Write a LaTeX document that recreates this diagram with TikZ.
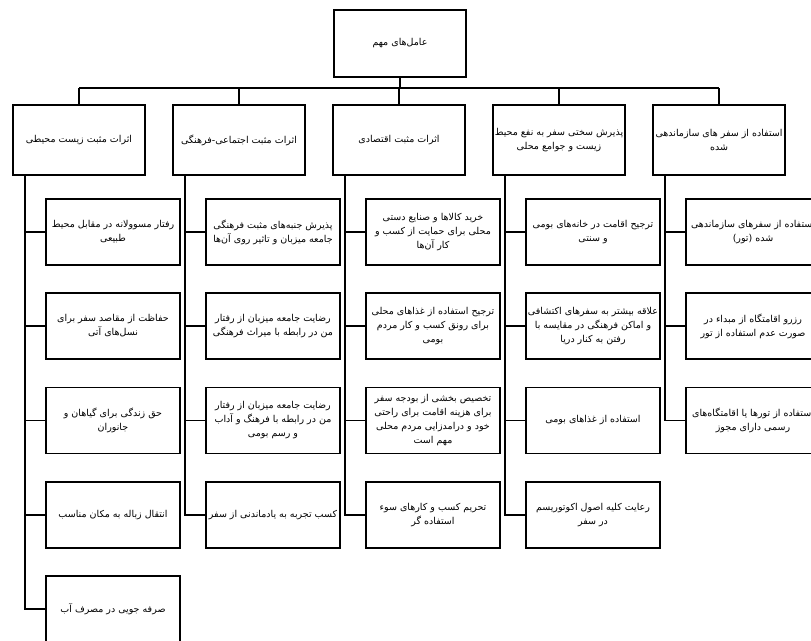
\documentclass[tikz,border=0pt]{standalone}
\usepackage{fontspec}
\newfontfamily\farsi[Script=Arabic]{DejaVu Sans}
\TeXXeTstate=1
\usetikzlibrary{calc}
\newcommand{\fa}[1]{\beginR #1\endR}
\begin{document}
\begin{tikzpicture}[x=1pt,y=-1pt,
  box/.style={draw=black, line width=1.8pt, fill=white, rectangle, inner sep=1pt, align=center,
    font=\farsi\fontsize{9.5}{14}\selectfont},
  topbox/.style={box, minimum width=132pt, minimum height=67pt},
  catbox/.style={box, minimum width=132pt, minimum height=70pt},
  itembox/.style={box, minimum width=134pt, minimum height=66pt},
  conn/.style={line width=1.8pt, draw=black}]
\fill[white] (0,0) rectangle (811,640);
\useasboundingbox (0,0) rectangle (811,640);

% top
\node[topbox] (top) at (400,43.5) {\fa{عامل‌های مهم}};

% categories
\node[catbox] (c1) at (79,140) {\fa{اثرات مثبت زیست محیطی}};
\node[catbox] (c2) at (239,140) {\fa{اثرات مثبت اجتماعی-فرهنگی}};
\node[catbox] (c3) at (399,140) {\fa{اثرات مثبت اقتصادی}};
\node[catbox] (c4) at (559,140) {\fa{پذیرش سختی سفر به نفع محیط}\\\fa{زیست و جوامع محلی}};
\node[catbox] (c5) at (719,140) {\fa{استفاده از سفر های سازماندهی}\\\fa{شده}};

% column 1
\node[itembox] (a1) at (113,232) {\fa{رفتار مسوولانه در مقابل محیط}\\\fa{طبیعی}};
\node[itembox] (a2) at (113,326) {\fa{حفاظت از مقاصد سفر برای}\\\fa{نسل‌های آتی}};
\node[itembox] (a3) at (113,420.5) {\fa{حق زندگی برای گیاهان و}\\\fa{جانوران}};
\node[itembox] (a4) at (113,515) {\fa{انتقال زباله به مکان مناسب}};
\node[itembox] (a5) at (113,609) {\fa{صرفه جویی در مصرف آب}};

% column 2
\node[itembox] (b1) at (273,232) {\fa{پذیرش جنبه‌های مثبت فرهنگی}\\\fa{جامعه میزبان و تاثیر روی آن‌ها}};
\node[itembox] (b2) at (273,326) {\fa{رضایت جامعه میزبان از رفتار}\\\fa{من در رابطه با میراث فرهنگی}};
\node[itembox] (b3) at (273,420.5) {\fa{رضایت جامعه میزبان از رفتار}\\\fa{من در رابطه با فرهنگ و آداب}\\\fa{و رسم بومی}};
\node[itembox] (b4) at (273,515) {\fa{کسب تجربه به یادماندنی از سفر}};

% column 3
\node[itembox] (d1) at (433,232) {\fa{خرید کالاها و صنایع دستی}\\\fa{محلی برای حمایت از کسب و}\\\fa{کار آن‌ها}};
\node[itembox] (d2) at (433,326) {\fa{ترجیح استفاده از غذاهای محلی}\\\fa{برای رونق کسب و کار مردم}\\\fa{بومی}};
\node[itembox] (d3) at (433,420.5) {\fa{تخصیص بخشی از بودجه سفر}\\\fa{برای هزینه اقامت برای راحتی}\\\fa{خود و درامدزایی مردم محلی}\\\fa{مهم است}};
\node[itembox] (d4) at (433,515) {\fa{تحریم کسب و کارهای سوء}\\\fa{استفاده گر}};

% column 4
\node[itembox] (e1) at (593,232) {\fa{ترجیح اقامت در خانه‌های بومی}\\\fa{و سنتی}};
\node[itembox] (e2) at (593,326) {\fa{علاقه بیشتر به سفرهای اکتشافی}\\\fa{و اماکن فرهنگی در مقایسه با}\\\fa{رفتن به کنار دریا}};
\node[itembox] (e3) at (593,420.5) {\fa{استفاده از غذاهای بومی}};
\node[itembox] (e4) at (593,515) {\fa{رعایت کلیه اصول اکوتوریسم}\\\fa{در سفر}};

% column 5
\node[itembox] (f1) at (753,232) {\fa{استفاده از سفرهای سازماندهی}\\\fa{شده (تور)}};
\node[itembox] (f2) at (753,326) {\fa{رزرو اقامتگاه از مبداء در}\\\fa{صورت عدم استفاده از تور}};
\node[itembox] (f3) at (753,420.5) {\fa{استفاده از تورها یا اقامتگاه‌های}\\\fa{رسمی دارای مجوز}};

% bus
\coordinate (busL) at (79,88);
\coordinate (busR) at (719,88);
\draw[conn] (busL) -- (busR);
\draw[conn] (top.south) -- (top.south |- busL);
\foreach \c in {c1,c2,c3,c4,c5} {
  \draw[conn] (\c.north) -- (\c.north |- busL);
}

% trunks
\coordinate (t1) at ($(c1.south west)+(13,0)$);
\coordinate (t2) at ($(c2.south west)+(13,0)$);
\coordinate (t3) at ($(c3.south west)+(13,0)$);
\coordinate (t4) at ($(c4.south west)+(13,0)$);
\coordinate (t5) at ($(c5.south west)+(13,0)$);
\foreach \n in {a1,a2,a3,a4,a5} { \draw[conn] (t1) |- (\n.west); }
\foreach \n in {b1,b2,b3,b4} { \draw[conn] (t2) |- (\n.west); }
\foreach \n in {d1,d2,d3,d4} { \draw[conn] (t3) |- (\n.west); }
\foreach \n in {e1,e2,e3,e4} { \draw[conn] (t4) |- (\n.west); }
\foreach \n in {f1,f2,f3} { \draw[conn] (t5) |- (\n.west); }
\end{tikzpicture}
\end{document}
